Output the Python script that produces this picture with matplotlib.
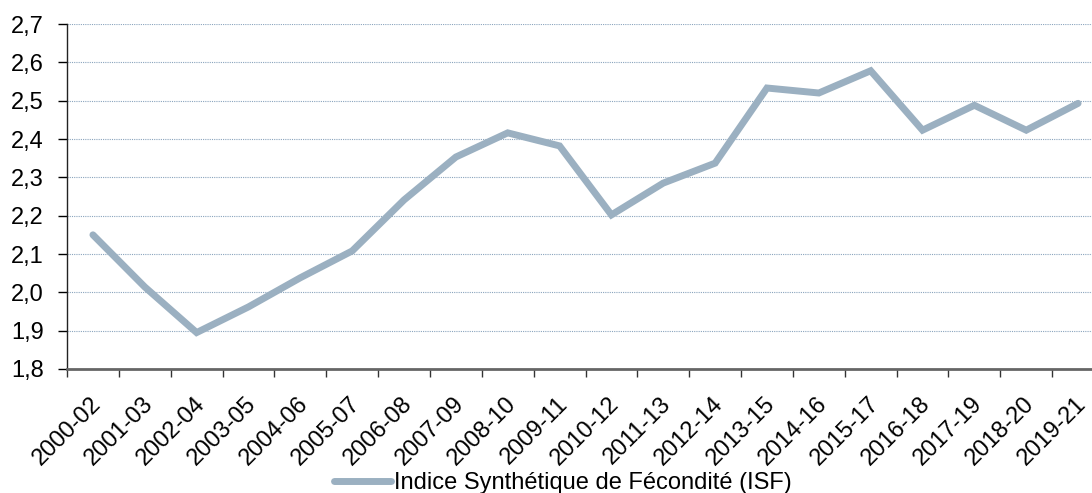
import matplotlib
matplotlib.use("Agg")
import matplotlib.pyplot as plt
import matplotlib.transforms as mtransforms
from matplotlib.ticker import FuncFormatter

plt.rcParams['font.family'] = ['Liberation Sans', 'DejaVu Sans']

periods = ["2000-02", "2001-03", "2002-04", "2003-05", "2004-06", "2005-07",
           "2006-08", "2007-09", "2008-10", "2009-11", "2010-12", "2011-13",
           "2012-14", "2013-15", "2014-16", "2015-17", "2016-18", "2017-19",
           "2018-20", "2019-21"]
isf = [2.15, 2.014, 1.895, 1.962, 2.038, 2.108, 2.241, 2.353, 2.416, 2.382,
       2.202, 2.285, 2.337, 2.533, 2.52, 2.578, 2.423, 2.488, 2.423, 2.493]
yticks = [1.8, 1.9, 2.0, 2.1, 2.2, 2.3, 2.4, 2.5, 2.6, 2.7]

fig = plt.figure(figsize=(10.92, 4.93), dpi=100)
ax = fig.add_axes([67 / 1092, 124 / 493, 1037 / 1092, 345 / 493])

x = list(range(len(periods)))
line, = ax.plot(x, isf, color="#9bb0c1", linewidth=5, solid_capstyle="round",
                solid_joinstyle="miter",
                label="Indice Synthétique de Fécondité (ISF)")

ax.set_xlim(-0.5, len(periods) - 0.5)
ax.set_ylim(1.8, 2.7)
ax.set_yticks(yticks)
ax.yaxis.set_major_formatter(FuncFormatter(lambda v, p: ("%.1f" % v).replace(".", ",")))
ax.set_xticks(x)
ax.set_xticklabels(periods, rotation=45, ha="right", rotation_mode="anchor")
ax.set_xticks([i - 0.5 for i in range(len(periods) + 1)], minor=True)
ax.tick_params(axis="x", which="major", length=0, labelsize=17, pad=17)
ax.tick_params(axis="x", which="minor", length=6, width=1, color="#333333")
ax.tick_params(axis="y", length=6.5, width=1, labelsize=17, pad=10)

# shift the rotated labels a touch left so the last one fits
offset = mtransforms.ScaledTranslation(-3 / 100, 0, fig.dpi_scale_trans)
for lbl in ax.get_xticklabels():
    lbl.set_transform(lbl.get_transform() + offset)

ax.grid(axis="y", linestyle=(0, (1, 1)), color="#8aa4bd", linewidth=0.8)
ax.set_axisbelow(True)
for s in ["top", "right"]:
    ax.spines[s].set_visible(False)
ax.spines["left"].set_color("#222222")
ax.spines["left"].set_linewidth(1)
ax.spines["bottom"].set_color("#666666")
ax.spines["bottom"].set_linewidth(2)

fig.legend(handles=[line], loc="center", bbox_to_anchor=(563 / 1092, 1 - 483 / 493),
           frameon=False, fontsize=17, handlelength=2.4, handletextpad=0.12)

fig.savefig("out.png", dpi=100)
